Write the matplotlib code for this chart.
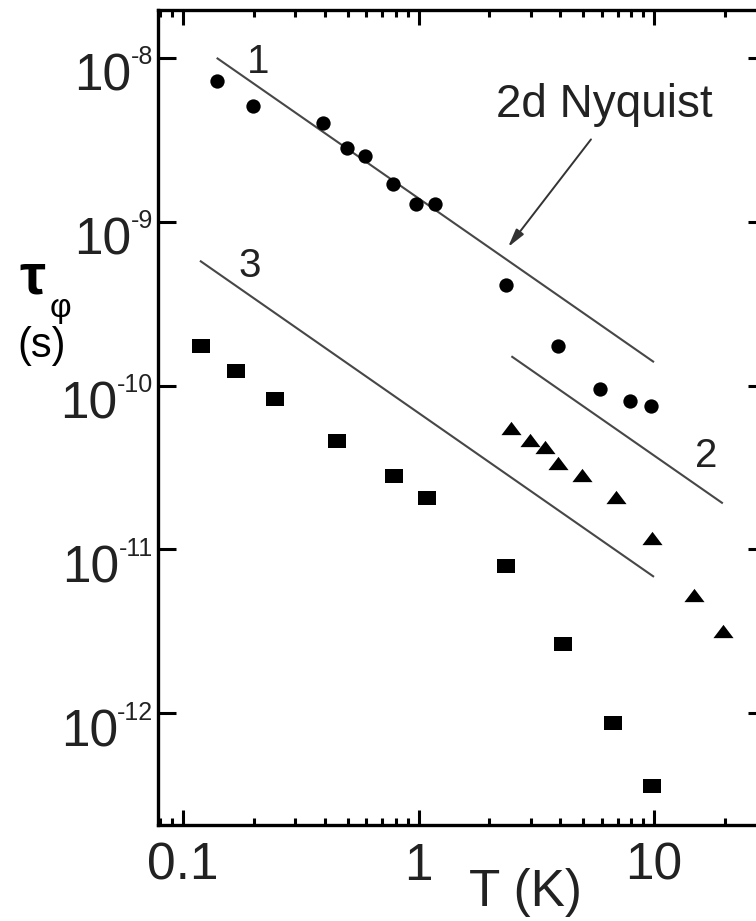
import matplotlib
matplotlib.use("Agg")
import matplotlib.pyplot as plt
import matplotlib.transforms as mtransforms
from matplotlib.path import Path
from matplotlib.ticker import FixedLocator, NullLocator, LogLocator, NullFormatter

plt.rcParams['font.family'] = ['Liberation Sans', 'DejaVu Sans']

# ---- data -----------------------------------------------------------------
# dephasing time tau_phi (s) versus temperature T (K)
circle_T = [0.139, 0.199, 0.392, 0.495, 0.593, 0.78, 0.979, 1.18, 2.36, 3.91, 5.87, 7.88, 9.75]
circle_tau = [7.18e-9, 5.06e-9, 4.01e-9, 2.83e-9, 2.51e-9, 1.69e-9, 1.28e-9, 1.28e-9,
              4.11e-10, 1.74e-10, 9.5e-11, 8.04e-11, 7.52e-11]

triangle_T = [2.48, 2.97, 3.43, 3.91, 4.94, 6.92, 9.82, 14.8, 19.6]
triangle_tau = [5.48e-11, 4.66e-11, 4.23e-11, 3.36e-11, 2.85e-11, 2.1e-11, 1.17e-11,
                5.3e-12, 3.18e-12]

square_T = [0.119, 0.168, 0.246, 0.45, 0.787, 1.09, 2.36, 4.11, 6.7, 9.84]
square_tau = [1.74e-10, 1.23e-10, 8.26e-11, 4.61e-11, 2.79e-11, 2.06e-11, 7.9e-12,
              2.64e-12, 8.69e-13, 3.58e-13]

# 2d Nyquist (tau ~ 1/T) lines, endpoints
line1_T = [0.139, 10.0]
line1_tau = [1.0e-8, 1.39e-10]
line2_T = [2.48, 19.6]
line2_tau = [1.51e-10, 1.91e-11]
line3_T = [0.118, 10.0]
line3_tau = [5.78e-10, 6.8e-12]

x_ticks = [0.1, 1, 10]
x_tick_labels = ['0.1', '1', '10']
y_exponents = [-8, -9, -10, -11, -12]

# ---- figure ---------------------------------------------------------------
W, H, DPI = 756, 921, 100
fig = plt.figure(figsize=(W / DPI, H / DPI), dpi=DPI)
ax = fig.add_axes([158 / W, 96 / H, (766 - 158) / W, (911 - 96) / H])
ax.set_xscale('log')
ax.set_yscale('log')
ax.set_xlim(0.0783, 29.9)
ax.set_ylim(2.08e-13, 1.96e-8)

line_color = '#474747'
for lx, ly in [(line1_T, line1_tau), (line2_T, line2_tau), (line3_T, line3_tau)]:
    ax.plot(lx, ly, color=line_color, lw=1.5, solid_capstyle='butt')

square_marker = Path([(-1.2, -0.93), (1.2, -0.93), (1.2, 0.93), (-1.2, 0.93), (-1.2, -0.93)],
                     [Path.MOVETO, Path.LINETO, Path.LINETO, Path.LINETO, Path.CLOSEPOLY])
triangle_marker = Path([(0, 0.66), (-1, -0.66), (1, -0.66), (0, 0.66)],
                       [Path.MOVETO, Path.LINETO, Path.LINETO, Path.CLOSEPOLY])

ax.plot(circle_T, circle_tau, ls='none', marker='o', ms=10.3, color='k', mew=0)
ax.plot(triangle_T, triangle_tau, ls='none', marker=triangle_marker, ms=14.5, color='k', mew=0)
ax.plot(square_T, square_tau, ls='none', marker=square_marker, ms=13, color='k', mew=0)

# line labels and annotation
ax.text(0.208, 9.46e-9, '1', fontsize=29, ha='center', va='center', color='#222')
ax.text(0.1925, 5.37e-10, '3', fontsize=29, ha='center', va='center', color='#222')
ax.text(16.6, 3.70e-11, '2', fontsize=29, ha='center', va='center', color='#222')
ax.text(6.14, 5.18e-9, '2d Nyquist', fontsize=33, ha='center', va='center', color='#222')
ax.annotate('', xy=(2.40, 7.0e-10), xytext=(5.40, 3.18e-9),
            arrowprops=dict(arrowstyle='-|>,head_length=1.1,head_width=0.28',
                            color='#333', lw=1.4, shrinkA=0, shrinkB=0))

# spines and ticks
for sp in ax.spines.values():
    sp.set_linewidth(2.4)
ax.xaxis.set_major_locator(FixedLocator(x_ticks))
ax.set_xticklabels(x_tick_labels)
ax.xaxis.set_minor_locator(LogLocator(base=10, subs=range(2, 10), numticks=20))
ax.xaxis.set_minor_formatter(NullFormatter())
ax.yaxis.set_major_locator(FixedLocator([10.0 ** e for e in y_exponents]))
ax.yaxis.set_minor_locator(NullLocator())
ax.set_yticklabels([])
ax.tick_params(axis='both', which='both', direction='in', top=True, right=True, width=2.2)
ax.tick_params(axis='y', which='major', length=13, labelleft=False)
ax.tick_params(axis='x', which='major', length=11, labelsize=37, pad=12, labelcolor='#222')
ax.tick_params(axis='x', which='minor', length=5)

# decade labels on the y axis: "10" with a small raised exponent
renderer = fig.canvas.get_renderer()
blend = mtransforms.blended_transform_factory(ax.transAxes, ax.transData)
idblend = mtransforms.blended_transform_factory(mtransforms.IdentityTransform(), ax.transData)
for e in y_exponents:
    y = 10.0 ** e
    t_exp = ax.text(0, y, '-%d' % abs(e), fontsize=18, ha='right', va='baseline',
                    transform=mtransforms.offset_copy(blend, fig=fig, x=-5, y=-6.5, units='dots'),
                    color='#222')
    x0 = t_exp.get_window_extent(renderer).x0
    ax.text(x0 + 1, y, '10', fontsize=37, ha='right', va='baseline',
            transform=mtransforms.offset_copy(idblend, fig=fig, x=0, y=-33, units='dots'),
            color='#222', clip_on=False)

# axis titles
fig.text(525 / W, 1 - 906 / H, 'T (K)', fontsize=37, ha='center', va='baseline', color='#222')
fig.text(32 / W, 1 - 278 / H, 'τ', fontsize=42, fontweight='bold', ha='center', va='center')
fig.text(60 / W, 1 - 308 / H, 'φ', fontsize=24, ha='center', va='center')
fig.text(42 / W, 1 - 346 / H, '(s)', fontsize=30, ha='center', va='center')

fig.savefig('out.png', dpi=DPI)
